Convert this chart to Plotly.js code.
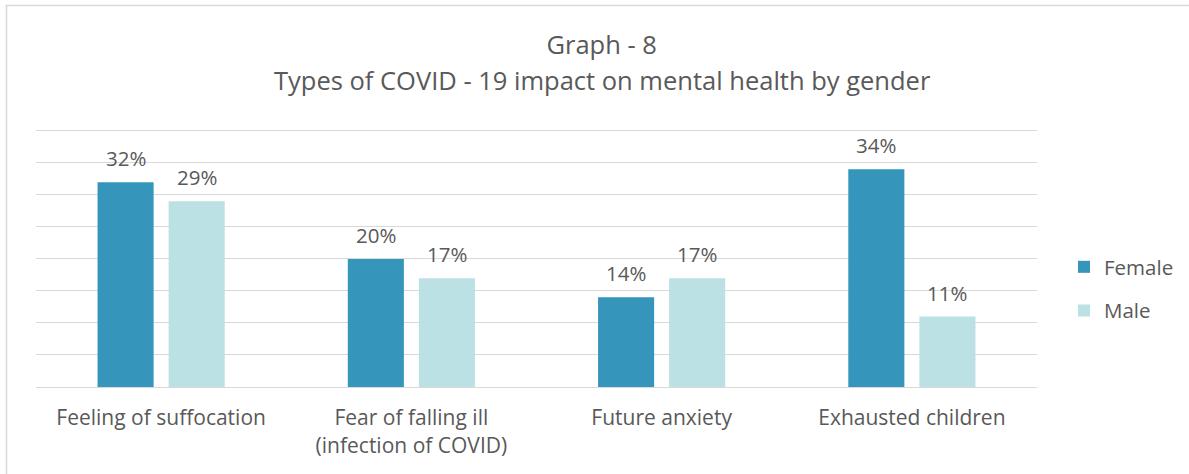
<!DOCTYPE html>
<html>
<head>
<meta charset="utf-8">
<script src="https://cdn.plot.ly/plotly-3.0.1.min.js"></script>
<style>html,body{margin:0;padding:0;background:#fff;}#chart{width:1189px;height:474px;}</style>
</head>
<body>
<div id="chart"></div>
<script>
const categories = ["Feeling of suffocation", "Fear of falling ill<br>(infection of COVID)", "Future anxiety", "Exhausted children"];
const female = [32, 20, 14, 34];
const male = [29, 17, 17, 11];
const seriesNames = ["Female", "Male"];
const titleLine1 = "Graph - 8";
const titleLine2 = "Types of COVID - 19 impact on mental health by gender";

const FONT = "Open Sans, sans-serif";
const TXT = "#595959";
const BARGAP = 0.432;

const traces = [
  {type:"bar", name:seriesNames[0], legendgroup:"f", x:categories, y:female,
   marker:{color:"#3595bb"}, hoverinfo:"skip"},
  {type:"bar", name:seriesNames[1], legendgroup:"m", x:categories, y:male,
   marker:{color:"#bce1e4"}, hoverinfo:"skip"}
];

// value labels placed via the axes (category index +/- half a bar slot)
const slot = (1 - BARGAP) / 2;
const labelAnns = [];
[female, male].forEach((series, s) => {
  series.forEach((v, i) => {
    labelAnns.push({x: i + (s === 0 ? -slot/2 : slot/2), y: v, xref:"x", yref:"y", text: v + "%",
      showarrow:false, xanchor:"center", yanchor:"middle", yshift:24,
      font:{family:FONT, size:20.5, color:TXT}});
  });
});

// plot area: y=0 at px 387, 6.4 px per unit; range top 40.3 so the 40 gridline is drawn
const PH = 258; // 40.3 * 6.4
const yPaper = px => (387 - px) / PH;

const layout = {
  width:1189, height:474,
  margin:{l:36, r:152, t:474-87-PH, b:87, pad:0, autoexpand:false},
  paper_bgcolor:"#fff", plot_bgcolor:"#fff",
  font:{family:FONT, color:TXT},
  title:{text:titleLine1, font:{family:FONT, size:25.5, color:TXT}, x:0.506, xanchor:"center", y:0.905, yanchor:"middle", yref:"container"},
  annotations:[{text:titleLine2, xref:"paper", yref:"paper", x:0.566, y:yPaper(80), xanchor:"center", yanchor:"middle", showarrow:false, font:{family:FONT, size:25.5, color:TXT}}].concat(labelAnns),
  barmode:"group", bargap:BARGAP, bargroupgap:0.211,
  xaxis:{showgrid:false, zeroline:false, showline:true, linecolor:"#d9d9d9", linewidth:1, ticks:"", ticklabelstandoff:12, tickfont:{family:FONT, size:21, color:TXT}, fixedrange:true, automargin:false},
  yaxis:{range:[0,40.3], tickvals:[0,5,10,15,20,25,30,35,40], showgrid:true, gridcolor:"#d9d9d9", gridwidth:1, zeroline:false, showticklabels:false, ticks:"", fixedrange:true, automargin:false},
  legend:{xref:"container", x:1064/1189, yref:"container", y:(474-289)/474, xanchor:"left", yanchor:"middle", font:{family:FONT, size:20.5, color:TXT}, itemwidth:30, tracegroupgap:14},
  shapes:[{type:"rect", xref:"paper", yref:"paper", x0:(6.5-36)/1001, x1:(1200-36)/1001, y0:yPaper(490), y1:yPaper(5.5), line:{color:"#d9d9d9", width:1.5}, fillcolor:"rgba(0,0,0,0)", layer:"below"}],
  showlegend:true
};

Plotly.newPlot("chart", traces, layout, {displayModeBar:false, staticPlot:true});
</script>
</body>
</html>
